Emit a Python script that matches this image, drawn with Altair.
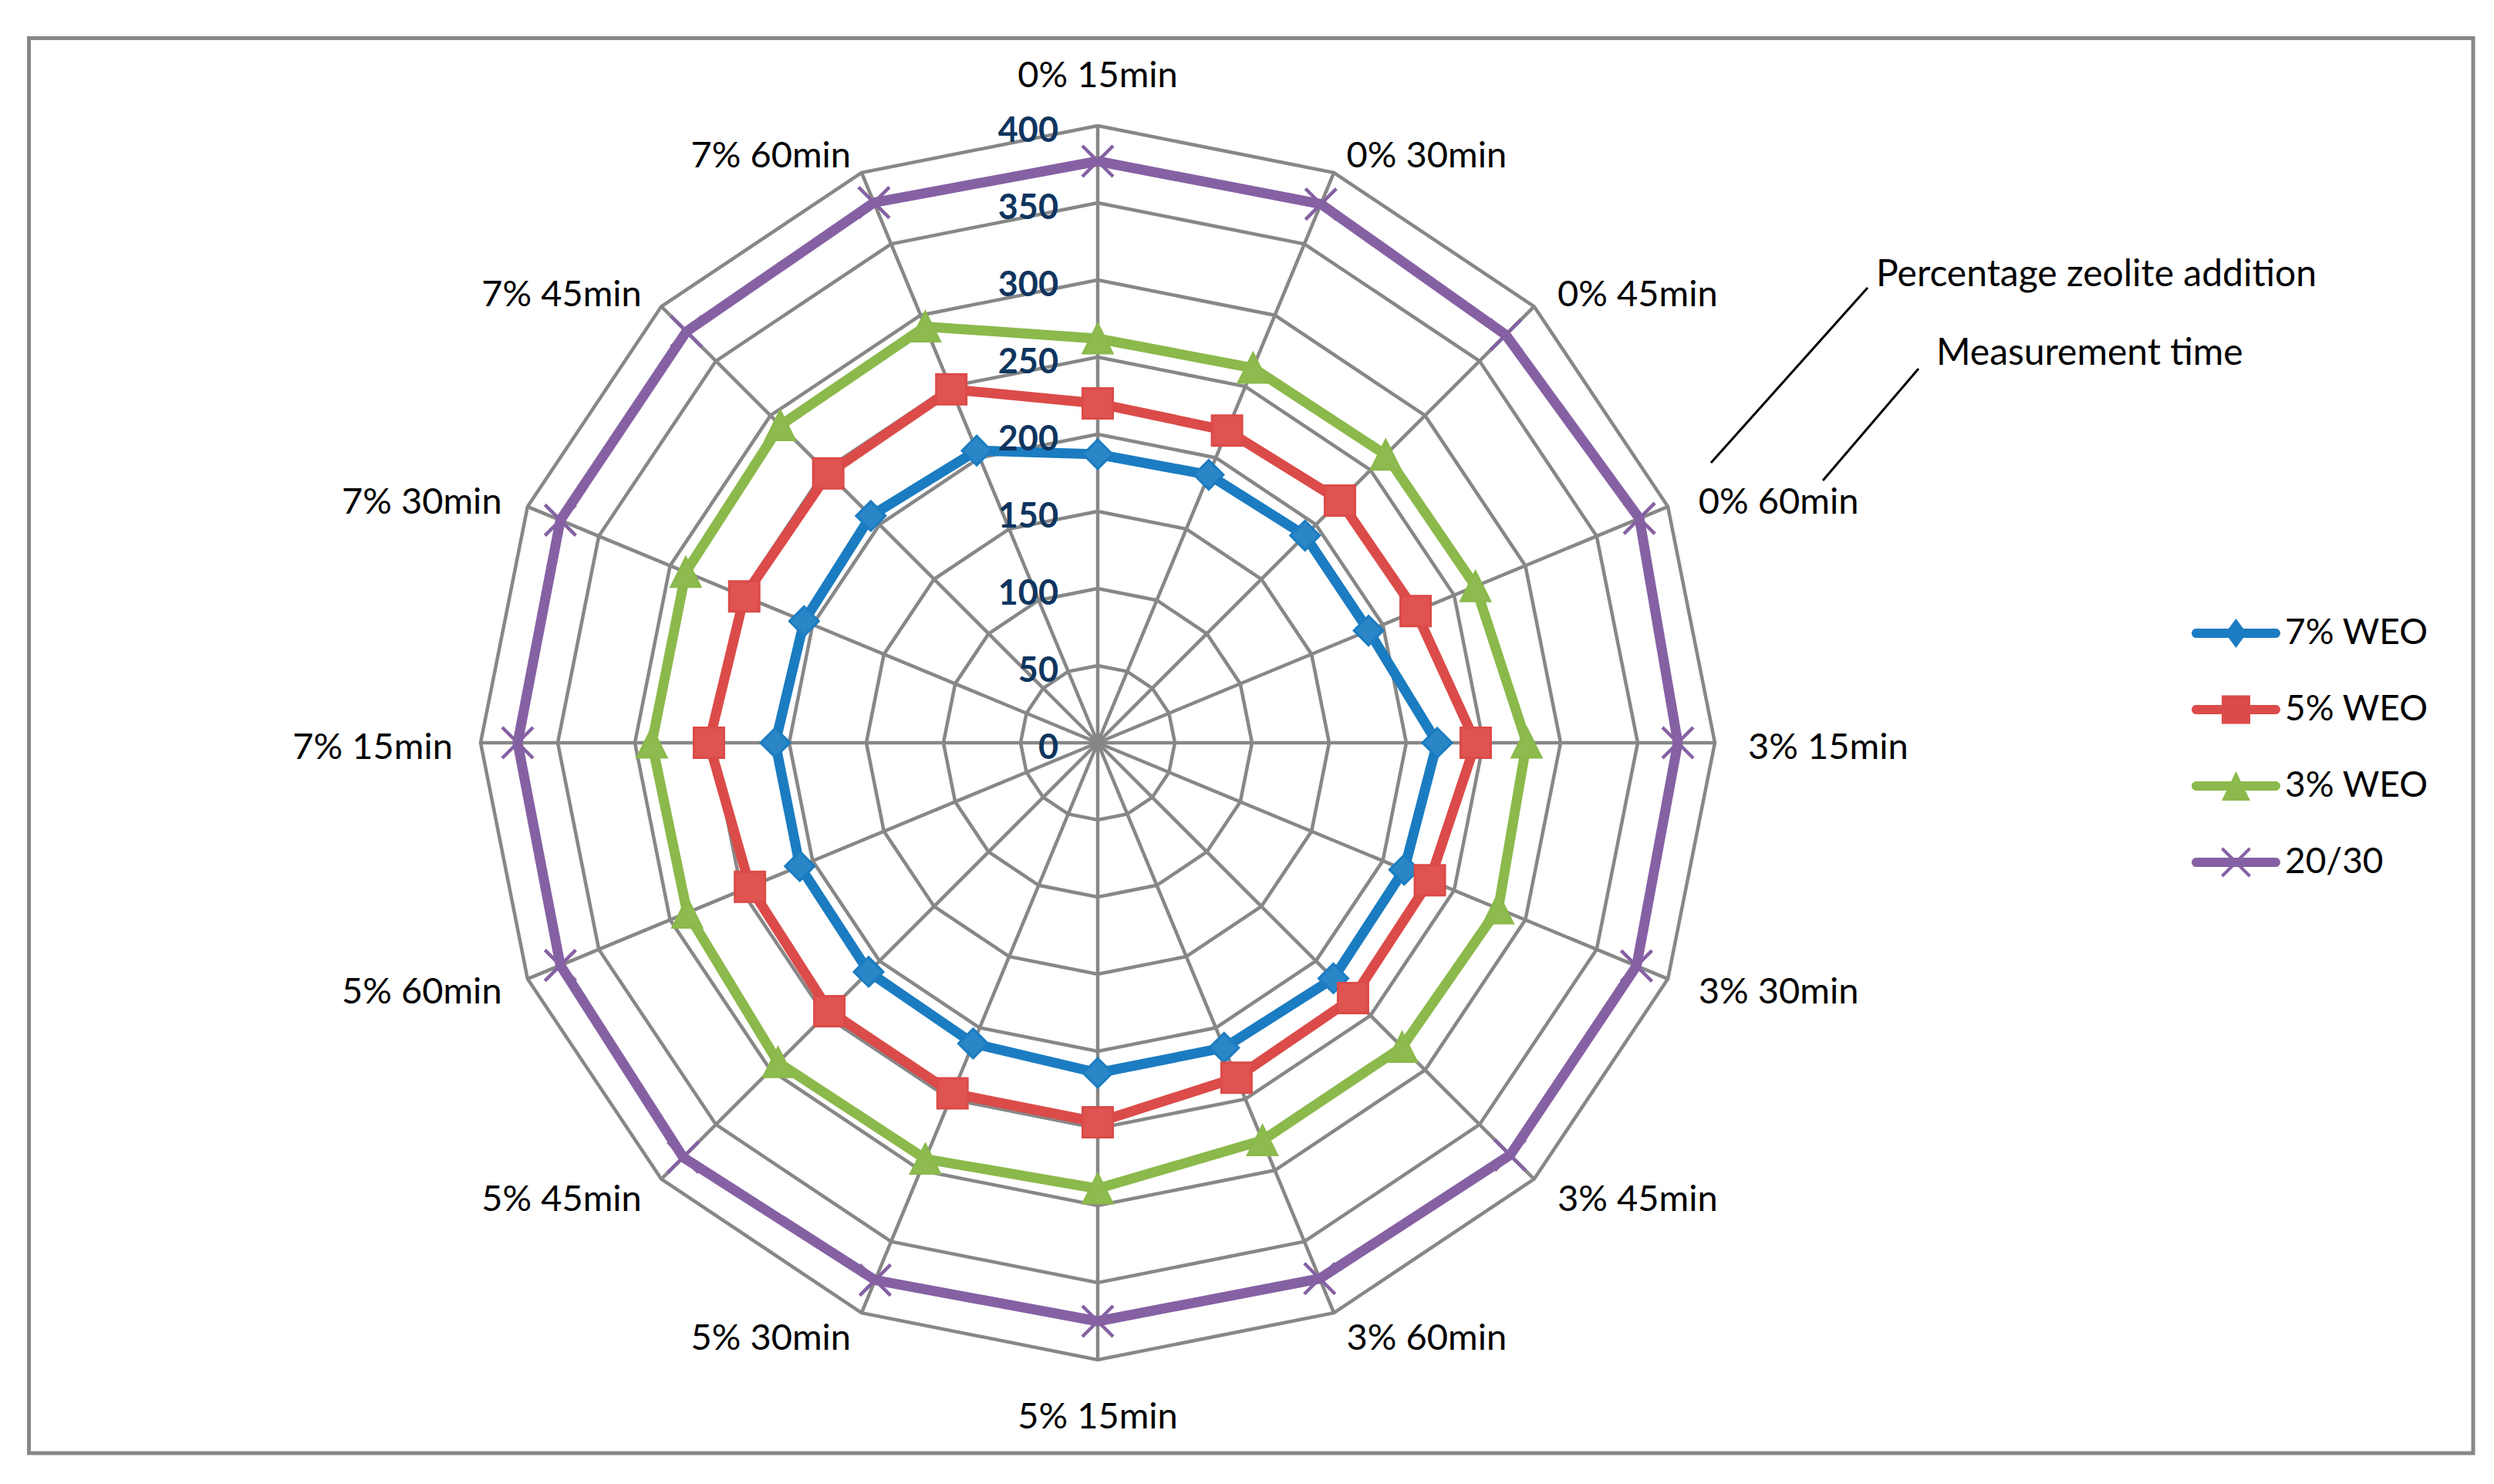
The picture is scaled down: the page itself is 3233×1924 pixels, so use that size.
import altair as alt
import pandas as pd

# ---------------- data ----------------
categories = ["0% 15min", "0% 30min", "0% 45min", "0% 60min",
              "3% 15min", "3% 30min", "3% 45min", "3% 60min",
              "5% 15min", "5% 30min", "5% 45min", "5% 60min",
              "7% 15min", "7% 30min", "7% 45min", "7% 60min"]
series_names = ["7% WEO", "5% WEO", "3% WEO", "20/30"]
weo7 = [187, 188, 190, 190, 220, 215, 216, 214, 214, 211, 210, 209, 209, 206, 208, 205]
weo5 = [220, 219, 222, 223, 245, 233, 234, 235, 246, 246, 246, 244, 252, 248, 247, 248]
weo3 = [262, 263, 264, 265, 278, 281, 279, 279, 289, 292, 293, 288, 289, 289, 291, 292]
bit2030 = [377, 378, 374, 380, 376, 378, 378, 376, 375, 377, 380, 377, 376, 377, 377, 379]
ring_values = [50, 100, 150, 200, 250, 300, 350, 400]
tick_values = [0, 50, 100, 150, 200, 250, 300, 350, 400]
tick_labels = ["0", "50", "100", "150", "200", "250", "300", "350", "400"]
annotation_texts = ["Percentage zeolite addition", "Measurement time"]
annotation_text_x = [504.5, 543.5]
annotation_text_y = [303, 252]
leader_x = [397.5, 470]
leader_y = [181.5, 170]
leader_x2 = [499, 532]
leader_y2 = [295, 242.5]

# ---------------- style ----------------
line_colors = ["#1B7CC1", "#DB4B49", "#8BB94B", "#8561A3"]
marker_fills = ["#2A86C6", "#DF5351", "#8EBB4F", "#8561A3"]
grid_color = "#878787"
tick_color = "#0F355F"
FONT = "Lato"

LINE = "M-2.575,-0.3H2.575A0.3,0.3 0 0 1 2.575,0.3H-2.575A0.3,0.3 0 0 1 -2.575,-0.3Z"
legend_paths = [
    LINE + "M0,-0.95L0.7,0L0,0.95L-0.7,0Z",
    LINE + "M-0.925,-0.925H0.925V0.925H-0.925Z",
    LINE + "M0,-0.95L0.925,0.95L-0.925,0.95Z",
    LINE + "M-0.971,-0.829L-0.829,-0.971L0.971,0.829L0.829,0.971Z"
           "M-0.829,0.971L-0.971,0.829L0.829,-0.971L0.971,-0.829Z",
]

# ---------------- tables ----------------
values_by_series = {"7% WEO": weo7, "5% WEO": weo5, "3% WEO": weo3, "20/30": bit2030}
n = len(categories)
series_rows = []
for s in series_names:
    vals = values_by_series[s]
    for i in range(n + 1):
        series_rows.append({"series": s, "idx": i, "value": vals[i % n]})
series_df = pd.DataFrame(series_rows)

grid_df = pd.DataFrame([{"ring": r, "idx": i, "value": r}
                        for r in ring_values for i in range(n + 1)])
spoke_df = pd.DataFrame({"idx": list(range(n)), "value": [max(ring_values)] * n})
cat_df = pd.DataFrame({"idx": list(range(n)), "label": categories})
tick_df = pd.DataFrame({"value": tick_values, "label": tick_labels})
lead_df = pd.DataFrame({"x": leader_x, "y": leader_y, "x2": leader_x2, "y2": leader_y2})
ann_df = pd.DataFrame({"x": annotation_text_x, "y": annotation_text_y, "text": annotation_texts})

xs = alt.Scale(domain=[-692.75, 891.5], nice=False, zero=False)
ys = alt.Scale(domain=[-460.5, 456.75], nice=False, zero=False)


def X(f):
    return alt.X(f, type="quantitative", scale=xs, axis=None)


def Y(f):
    return alt.Y(f, type="quantitative", scale=ys, axis=None)


def polar(ch):
    return (ch.transform_calculate(theta="datum.idx * 2 * PI / 16")
              .transform_calculate(px="datum.value * sin(datum.theta)",
                                   py="datum.value * cos(datum.theta)"))


def color_scale():
    return alt.Scale(domain=series_names, range=line_colors)


fill_scale = alt.Scale(domain=series_names, range=marker_fills)

rings = polar(alt.Chart(grid_df)).mark_line(color=grid_color, strokeWidth=4.5).encode(
    x=X("px"), y=Y("py"), detail="ring:N", order="idx:Q")

spokes = polar(alt.Chart(spoke_df)).transform_calculate(o="0").mark_rule(
    color=grid_color, strokeWidth=4.5).encode(
    x=X("o"), y=Y("o"), x2="px:Q", y2="py:Q")

lines = polar(alt.Chart(series_df)).mark_line(strokeWidth=13, strokeJoin="round").encode(
    x=X("px"), y=Y("py"),
    color=alt.Color("series:N", scale=color_scale(), legend=None),
    order="idx:Q")

pts_base = polar(alt.Chart(series_df)).transform_filter("datum.idx < 16")


def filled_points(name, shape, size):
    return pts_base.transform_filter(alt.datum.series == name).mark_point(
        shape=shape, size=size, filled=True, opacity=1, strokeWidth=3).encode(
        x=X("px"), y=Y("py"),
        fill=alt.Fill("series:N", scale=fill_scale, legend=None),
        stroke=alt.Stroke("series:N", scale=color_scale(), legend=None))


p7 = filled_points("7% WEO", "diamond", 1444)
p5 = filled_points("5% WEO", "square", 1521)
p3 = filled_points("3% WEO", "M0,-1L1,1L-1,1Z", 1444)
pb = pts_base.transform_filter(alt.datum.series == "20/30").mark_point(
    shape="M-1,-1L1,1M-1,1L1,-1", size=1600, filled=False, opacity=1, strokeWidth=4.5).encode(
    x=X("px"), y=Y("py"),
    color=alt.Color("series:N", scale=color_scale(), legend=None))

legend_cfg = dict(orient="none", legendX=2838, legendY=748.5, title=None,
                  symbolSize=1600, symbolStrokeWidth=0, symbolOpacity=1,
                  labelFont=FONT, labelFontSize=46, labelColor="black",
                  labelOffset=40.5, labelLimit=0, rowPadding=53, padding=0)
legend_layer = pts_base.mark_point(filled=True, opacity=0, size=10).encode(
    x=X("px"), y=Y("py"),
    color=alt.Color("series:N", scale=color_scale(), legend=alt.Legend(**legend_cfg)),
    shape=alt.Shape("series:N", scale=alt.Scale(domain=series_names, range=legend_paths),
                    legend=alt.Legend(**legend_cfg)))

cat_base = alt.Chart(cat_df).transform_calculate(
    theta="datum.idx * 2 * PI / 16").transform_calculate(
    s="sin(datum.theta)", c="cos(datum.theta)")

cat_right = cat_base.transform_filter("datum.s > 0.01").transform_calculate(
    lx="421.5 * datum.s", ly="415 * datum.c - 3.3").mark_text(
    align="left", baseline="middle", font=FONT, fontSize=47,
    color="black").encode(x=X("lx"), y=Y("ly"), text="label:N")
cat_left = cat_base.transform_filter("datum.s < -0.01").transform_calculate(
    lx="418 * datum.s", ly="415 * datum.c - 3.3").mark_text(
    align="right", baseline="middle", font=FONT, fontSize=47,
    color="black").encode(x=X("lx"), y=Y("ly"), text="label:N")
cat_mid = cat_base.transform_filter("abs(datum.s) <= 0.01").transform_calculate(
    lx="0", ly="datum.c > 0 ? 432 : -437.3").mark_text(
    align="center", baseline="middle", font=FONT, fontSize=47,
    color="black").encode(x=X("lx"), y=Y("ly"), text="label:N")

ticks = alt.Chart(tick_df).transform_calculate(
    tx="-25.5", ty="datum.value - 3.3").mark_text(
    align="right", baseline="middle", font=FONT, fontSize=45, fontWeight="bold",
    color=tick_color).encode(x=X("tx"), y=Y("ty"), text="label:N")

leaders = alt.Chart(lead_df).mark_rule(color="black", strokeWidth=3).encode(
    x=X("x"), y=Y("y"), x2="x2:Q", y2="y2:Q")

ann = alt.Chart(ann_df).mark_text(
    align="left", baseline="middle", font=FONT, fontSize=48,
    color="black").encode(x=X("x"), y=Y("y"), text="text:N")

chart = alt.layer(
    rings, spokes, lines, p7, p5, p3, pb, legend_layer,
    cat_right, cat_left, cat_mid, ticks, leaders, ann
).resolve_scale(
    color="independent", shape="independent"
).properties(
    width=3168.5, height=1834.5,
    padding={"left": 29.5, "top": 41.5, "right": 10, "bottom": 10},
    autosize=alt.AutoSizeParams(type="none"),
    background="white",
).configure_view(stroke="#888888", strokeWidth=5)

chart.save("out.html", embed_options={"renderer": "svg", "actions": False})
